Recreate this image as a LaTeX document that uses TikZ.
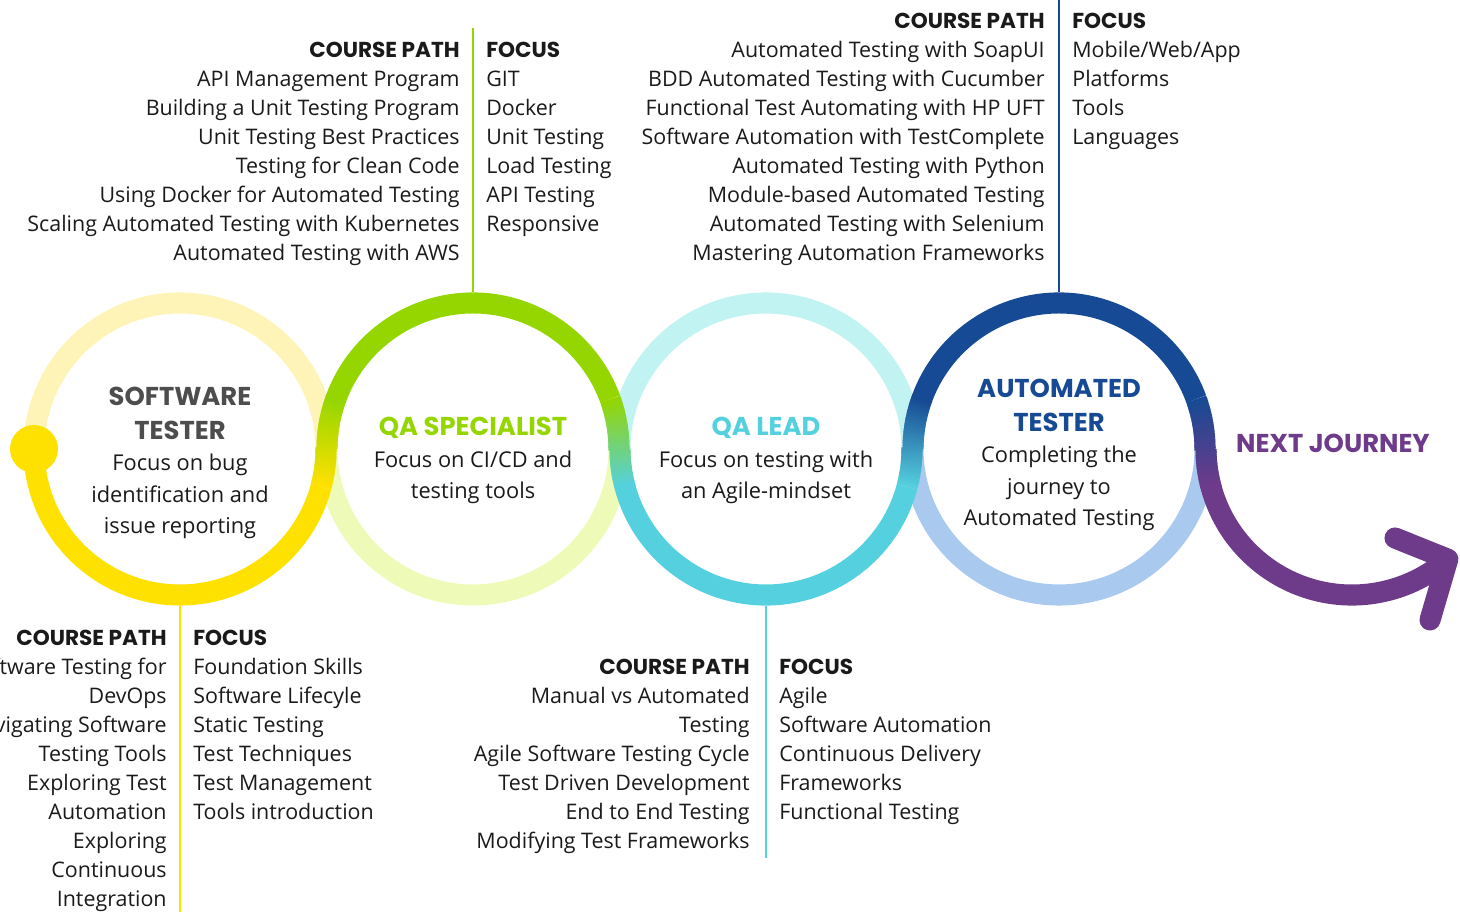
\documentclass[tikz,border=0pt]{standalone}
\usepackage{fontspec}
\setmainfont{Open Sans}
\newfontfamily\headfont{Poppins}
\usetikzlibrary{positioning}

\definecolor{yel}{HTML}{FFE100}
\definecolor{yellt}{HTML}{FFF4B8}
\definecolor{grn}{HTML}{95D600}
\definecolor{grnlt}{HTML}{EEFBB8}
\definecolor{cyn}{HTML}{55D0DE}
\definecolor{cynlt}{HTML}{C2F3F3}
\definecolor{blu}{HTML}{174A94}
\definecolor{blult}{HTML}{A9C9EF}
\definecolor{pur}{HTML}{6E3A8A}
\definecolor{ttgray}{HTML}{4D4D4D}
\definecolor{txt}{HTML}{1A1A1A}

\newcommand{\listfont}{\fontsize{12.2pt}{16.5pt}\selectfont}
\newcommand{\stagefont}{\fontsize{12.4pt}{18pt}\selectfont}
\newcommand{\headtxt}[1]{{\headfont\bfseries\fontsize{12.3pt}{16.5pt}\selectfont #1}}
\newcommand{\stagetitle}[2]{{\color{#1}\headfont\bfseries\fontsize{14.7pt}{19.5pt}\selectfont #2}}

% colour blend along a ring: centre, start angle, step, steps, offset, from, to
\newcommand{\blendarc}[7]{%
  \foreach \k in {1,...,#4}{%
    \pgfmathsetmacro{\ang}{#2+#3*(\k-1)}%
    \pgfmathsetmacro{\pct}{100*(#5+\k-1)/34}%
    \draw[ring, draw=#7!\pct!#6] (#1) ++(\ang:146) arc[start angle=\ang, delta angle=#3*1.6, radius=146];
  }}

\begin{document}
\begin{tikzpicture}[x=0.02cm, y=0.02cm, color=txt,
  ring/.style={line width=12pt},
  stage/.style={circle, minimum size=6.26cm, inner sep=0pt},
  tline/.style={line width=1.1pt},
  pathlist/.style={anchor=north east, align=right, inner sep=0pt, font=\listfont},
  focuslist/.style={anchor=north west, align=left, inner sep=0pt, font=\listfont},
  stagetext/.style={anchor=north, align=center, inner sep=0pt, font=\stagefont}]

\useasboundingbox (0,0) rectangle (1460,912);
\clip (0,0) rectangle (1460,912);

% circles
\node[stage] (tester) at (180,463) {};
\node[stage] (special) at (473,463) {};
\node[stage] (lead) at (766,463) {};
\node[stage] (auto) at (1059,463) {};
\coordinate (nextc) at (1352,463);

% light halves
\draw[ring, yellt] (tester.center) ++(0:146) arc[start angle=0, end angle=180, radius=146];
\draw[ring, grnlt] (special.center) ++(180:146) arc[start angle=180, end angle=360, radius=146];
\draw[ring, cynlt] (lead.center) ++(0:146) arc[start angle=0, end angle=180, radius=146];
\draw[ring, blult] (auto.center) ++(180:146) arc[start angle=180, end angle=360, radius=146];

% the path through all stages
\draw[ring, yel] (tester.center) ++(180:146) arc[start angle=180, end angle=345, radius=146];
\blendarc{tester.center}{345}{1}{15}{0}{yel}{grn}
\blendarc{special.center}{180}{-1}{20}{15}{yel}{grn}
\draw[ring, grn] (special.center) ++(160:146) arc[start angle=160, end angle=20, radius=146];
\blendarc{special.center}{20}{-1}{20}{0}{grn}{cyn}
\blendarc{lead.center}{180}{1}{15}{20}{grn}{cyn}
\draw[ring, cyn] (lead.center) ++(195:146) arc[start angle=195, end angle=345, radius=146];
\blendarc{lead.center}{345}{1}{15}{0}{cyn}{blu}
\blendarc{auto.center}{180}{-1}{20}{15}{cyn}{blu}
\draw[ring, blu] (auto.center) ++(160:146) arc[start angle=160, end angle=20, radius=146];
\blendarc{auto.center}{20}{-1}{20}{0}{blu}{pur}
\blendarc{nextc}{180}{1}{15}{20}{blu}{pur}
\draw[ring, pur] (nextc) ++(195:146) arc[start angle=195, end angle=311, radius=146] coordinate (tip);

% arrow head
\coordinate (armup) at (1395,374);
\coordinate (armdn) at (1430,292);
\draw[ring, pur, line cap=round, line join=round] (armup) -- (tip) -- (armdn);

% start dot
\node[circle, fill=yel, minimum size=0.96cm, inner sep=0pt] (start) at (34,463) {};

% lines to the lists
\coordinate (tend) at (180,0);
\coordinate (send) at (473,884);
\coordinate (lend) at (766,54);
\coordinate (aend) at (1059,912);
\draw[tline, yel] (tester.south) -- (tend);
\draw[tline, grn] (special.north) -- (send);
\draw[tline, cyn] (lead.south) -- (lend);
\draw[tline, blu] (auto.north) -- (aend);

% stage texts
\node[stagetext] (ttext) at (180,525) {\stagetitle{ttgray}{SOFTWARE}\\[1pt]\stagetitle{ttgray}{TESTER}\\Focus on bug\\identification and\\issue reporting};
\node[stagetext] (stext) at (473,495) {\stagetitle{grn}{QA SPECIALIST}\\Focus on CI/CD and\\testing tools};
\node[stagetext] (ltext) at (766,495) {\stagetitle{cyn}{QA LEAD}\\Focus on testing with\\an Agile-mindset};
\node[stagetext] (atext) at (1059,533) {\stagetitle{blu}{AUTOMATED}\\[1pt]\stagetitle{blu}{TESTER}\\Completing the\\journey to\\Automated Testing};
\node[inner sep=0pt] (next) at (1333,469) {\stagetitle{pur}{NEXT JOURNEY}};

% course paths and focus
\node[pathlist] (tpath) at (167,282) {\headtxt{COURSE PATH}\\Software Testing for\\DevOps\\Navigating Software\\Testing Tools\\Exploring Test\\Automation\\Exploring\\Continuous\\Integration};
\node[focuslist] (tfocus) at (193,282) {\headtxt{FOCUS}\\Foundation Skills\\Software Lifecyle\\Static Testing\\Test Techniques\\Test Management\\Tools introduction};

\node[pathlist] (spath) at (460,870) {\headtxt{COURSE PATH}\\API Management Program\\Building a Unit Testing Program\\Unit Testing Best Practices\\Testing for Clean Code\\Using Docker for Automated Testing\\Scaling Automated Testing with Kubernetes\\Automated Testing with AWS};
\node[focuslist] (sfocus) at (486,870) {\headtxt{FOCUS}\\GIT\\Docker\\Unit Testing\\Load Testing\\API Testing\\Responsive};

\node[pathlist] (lpath) at (750,253) {\headtxt{COURSE PATH}\\Manual vs Automated\\Testing\\Agile Software Testing Cycle\\Test Driven Development\\End to End Testing\\Modifying Test Frameworks};
\node[focuslist] (lfocus) at (779,253) {\headtxt{FOCUS}\\Agile\\Software Automation\\Continuous Delivery\\Frameworks\\Functional Testing};

\node[pathlist] (apath) at (1045,899) {\headtxt{COURSE PATH}\\Automated Testing with SoapUI\\BDD Automated Testing with Cucumber\\Functional Test Automating with HP UFT\\Software Automation with TestComplete\\Automated Testing with Python\\Module-based Automated Testing\\Automated Testing with Selenium\\Mastering Automation Frameworks};
\node[focuslist] (afocus) at (1072,899) {\headtxt{FOCUS}\\Mobile/Web/App\\Platforms\\Tools\\Languages};
\end{tikzpicture}
\end{document}
